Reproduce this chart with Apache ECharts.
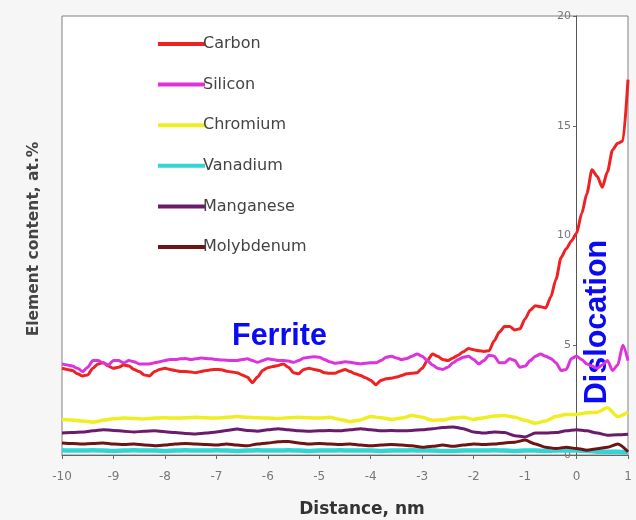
<!DOCTYPE html>
<html><head><meta charset="utf-8">
<script src="https://cdn.jsdelivr.net/npm/echarts@6/dist/echarts.min.js"></script>
<style>html,body{margin:0;padding:0;background:#f6f6f6}#c{width:636px;height:520px}</style>
</head><body><div id="c"></div>
<script>
// Distance sampling (nm)
const distFine = [];   // step 0.1 nm, -10 .. 1
for (let i = 0; i <= 110; i++) distFine.push(+(-10 + i * 0.1).toFixed(1));
const distCoarse = []; // step 0.2 nm, -10 .. 1
for (let i = 0; i <= 55; i++) distCoarse.push(+(-10 + i * 0.2).toFixed(1));

const seriesNames = ['Carbon', 'Silicon', 'Chromium', 'Vanadium', 'Manganese', 'Molybdenum'];
const xTicks = [-10, -9, -8, -7, -6, -5, -4, -3, -2, -1, 0, 1];
const yTicks = [0, 5, 10, 15, 20];

const carbon = [
  3.95,3.9,3.85,3.7,3.6,3.65,3.95,4.15,4.2,4.05,
  3.95,4.0,4.1,4.05,3.9,3.8,3.65,3.6,3.8,3.9,
  3.95,3.9,3.85,3.8,3.8,3.78,3.75,3.8,3.85,3.88,
  3.9,3.88,3.82,3.78,3.75,3.65,3.55,3.3,3.55,3.85,
  3.98,4.03,4.08,4.15,4.0,3.75,3.7,3.9,3.95,3.9,
  3.85,3.75,3.72,3.72,3.82,3.9,3.8,3.7,3.62,3.52,
  3.4,3.2,3.4,3.47,3.5,3.55,3.62,3.7,3.72,3.75,
  3.95,4.3,4.6,4.5,4.35,4.3,4.42,4.55,4.7,4.85,
  4.8,4.75,4.72,4.75,5.2,5.6,5.85,5.85,5.7,5.75,
  6.2,6.6,6.8,6.75,6.7,7.2,8.0,9.0,9.4,9.75,
  10.1,11.0,11.9,13.0,12.7,12.2,12.9,13.9,14.2,14.3,
  17.1
];
const silicon = [
  4.15,4.1,4.05,3.95,3.8,4.0,4.3,4.3,4.2,4.1,
  4.3,4.3,4.2,4.3,4.25,4.15,4.15,4.15,4.2,4.25,
  4.3,4.35,4.35,4.38,4.4,4.35,4.38,4.42,4.4,4.38,
  4.35,4.33,4.32,4.3,4.3,4.35,4.38,4.3,4.22,4.3,
  4.38,4.35,4.3,4.3,4.28,4.22,4.3,4.42,4.45,4.48,
  4.45,4.35,4.25,4.18,4.2,4.25,4.22,4.18,4.15,4.18,
  4.2,4.2,4.3,4.45,4.5,4.42,4.35,4.4,4.5,4.6,
  4.5,4.3,4.1,3.95,3.9,4.0,4.2,4.35,4.45,4.5,
  4.35,4.15,4.3,4.55,4.5,4.2,4.2,4.38,4.3,4.0,
  4.05,4.3,4.5,4.6,4.5,4.4,4.2,3.85,3.9,4.4,
  4.5,4.35,4.15,4.05,3.95,4.1,4.3,3.85,4.1,5.0,
  4.3
];
const chromium = [
  1.62,1.6,1.55,1.5,1.58,1.65,1.68,1.66,1.64,1.68,
  1.7,1.68,1.7,1.72,1.7,1.68,1.72,1.75,1.72,1.7,
  1.68,1.66,1.7,1.72,1.7,1.68,1.72,1.62,1.52,1.6,
  1.75,1.7,1.62,1.68,1.8,1.72,1.58,1.6,1.68,1.72,
  1.62,1.7,1.78,1.8,1.72,1.58,1.45,1.55,1.75,1.85,
  1.85,1.92,1.95,2.15,1.75,1.95
];
const vanadium = [
  0.22,0.2,0.2,0.22,0.2,0.18,0.2,0.22,0.2,0.2,
  0.18,0.2,0.22,0.2,0.2,0.22,0.2,0.18,0.2,0.22,
  0.2,0.2,0.22,0.2,0.18,0.2,0.2,0.22,0.2,0.2,
  0.2,0.18,0.2,0.2,0.22,0.2,0.2,0.18,0.18,0.2,
  0.2,0.2,0.22,0.2,0.18,0.2,0.2,0.18,0.2,0.2,
  0.2,0.18,0.15,0.15,0.15,0.12
];
const manganese = [
  1.0,1.02,1.05,1.1,1.15,1.12,1.08,1.05,1.08,1.1,
  1.06,1.02,0.98,0.96,1.0,1.05,1.12,1.18,1.12,1.08,
  1.15,1.2,1.15,1.1,1.08,1.1,1.12,1.1,1.15,1.2,
  1.15,1.1,1.12,1.1,1.12,1.15,1.2,1.25,1.28,1.2,
  1.05,1.0,1.05,1.02,0.88,0.82,1.0,1.0,1.02,1.1,
  1.15,1.1,1.0,0.9,0.92,0.95
];
const molybdenum = [
  0.55,0.52,0.5,0.52,0.55,0.5,0.48,0.5,0.46,0.42,
  0.45,0.5,0.52,0.5,0.48,0.45,0.5,0.45,0.42,0.5,
  0.55,0.6,0.62,0.55,0.5,0.52,0.5,0.48,0.5,0.45,
  0.42,0.45,0.48,0.45,0.42,0.35,0.4,0.45,0.4,0.45,
  0.5,0.48,0.5,0.55,0.58,0.68,0.5,0.35,0.3,0.35,
  0.3,0.22,0.28,0.35,0.5,0.15
];

const colors = ['#ee2222', '#dd33dd', '#eeee22', '#33d4d4', '#6a1b6a', '#6e1414'];
const widths = [3, 3, 3.5, 4.5, 3, 3];
const valueSets = [carbon, silicon, chromium, vanadium, manganese, molybdenum];
const xSets = [distFine, distFine, distCoarse, distCoarse, distCoarse, distCoarse];

const zip = (xs, ys) => xs.map((x, i) => [x, ys[i]]);

const chart = echarts.init(document.getElementById('c'));
chart.setOption({
  animation: false,
  backgroundColor: '#f6f6f6',
  grid: { left: 62, right: 8, top: 16, bottom: 65, show: true, backgroundColor: '#ffffff', borderColor: '#808080', borderWidth: 1 },
  legend: {
    orient: 'vertical', left: 153, top: 31, icon: 'rect', itemWidth: 47, itemHeight: 4, itemGap: 24.6,
    textStyle: { fontFamily: 'DejaVu Sans', fontSize: 16, color: '#444', padding: [0, 0, 0, -7] },
    data: seriesNames
  },
  xAxis: {
    type: 'value', min: xTicks[0], max: xTicks[xTicks.length - 1], interval: 1,
    axisLine: { onZero: false, lineStyle: { color: '#666' } },
    axisTick: { show: true, length: 4, lineStyle: { color: '#666' } },
    axisLabel: { margin: 16, fontFamily: 'DejaVu Sans', fontSize: 12, color: '#777' },
    splitLine: { show: false }
  },
  yAxis: {
    type: 'value', min: yTicks[0], max: yTicks[yTicks.length - 1], interval: 5,
    position: 'left', offset: -514,
    axisLine: { show: true, onZero: false, lineStyle: { color: '#555' } },
    axisTick: { show: true, length: 3, lineStyle: { color: '#666' } },
    axisLabel: { margin: 5, fontFamily: 'DejaVu Sans', fontSize: 11, color: '#777' },
    splitLine: { show: false }
  },
  series: seriesNames.map((n, k) => ({
    name: n, type: 'line', symbol: 'none', smooth: 0.25, smoothMonotone: 'x',
    color: colors[k],
    lineStyle: { width: widths[k], color: colors[k] },
    data: zip(xSets[k], valueSets[k])
  })),
  graphic: [
    { type: 'text', x: 232, y: 337, style: { text: 'Ferrite', fill: '#0a0af5', font: 'bold 30.5px "Liberation Sans"', align: 'left', verticalAlign: 'middle' } },
    { type: 'text', x: 598, y: 322, rotation: Math.PI / 2, style: { text: 'Dislocation', fill: '#0a0af5', font: 'bold 30.5px "Liberation Sans"', align: 'center', verticalAlign: 'middle' } },
    { type: 'text', x: 34, y: 239, rotation: Math.PI / 2, style: { text: 'Element content, at.%', fill: '#444', font: 'bold 15.5px "DejaVu Sans"', align: 'center', verticalAlign: 'middle' } },
    { type: 'text', x: 362, y: 510, style: { text: 'Distance, nm', fill: '#333', font: 'bold 17px "DejaVu Sans"', align: 'center', verticalAlign: 'middle' } }
  ]
});
</script></body></html>
